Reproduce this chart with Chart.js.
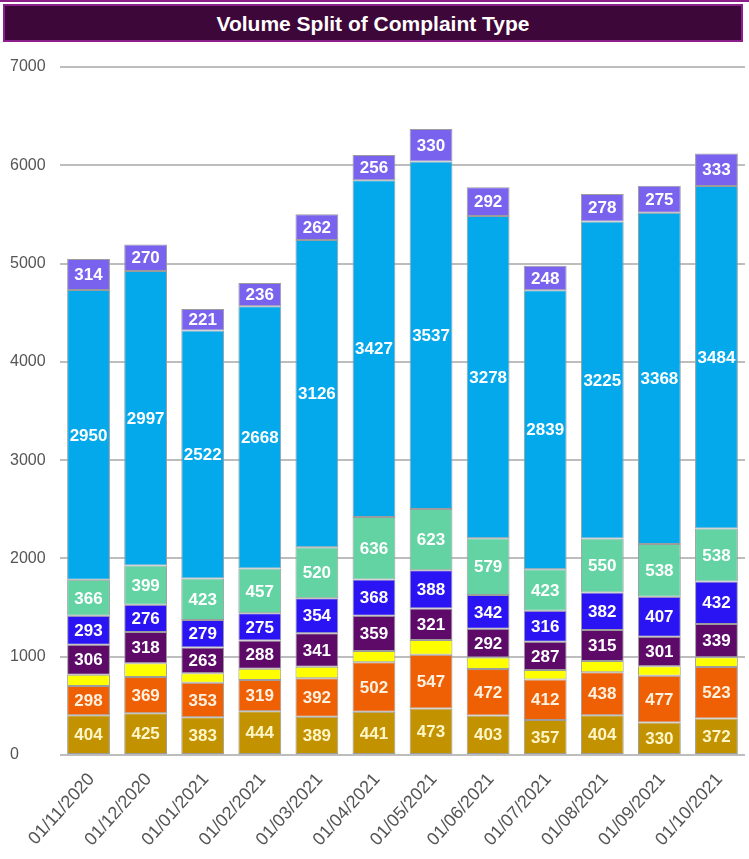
<!DOCTYPE html>
<html>
<head>
<meta charset="utf-8">
<script src="https://cdn.jsdelivr.net/npm/chart.js@4"></script>
<style>
  html, body { margin: 0; padding: 0; background: #ffffff; }
  body { width: 749px; height: 859px; position: relative; overflow: hidden; font-family: "Liberation Sans", Arial, sans-serif; }
  #topline { position: absolute; left: 0; top: 0; width: 749px; height: 2px; background: #8d1f8a; }
  #banner {
    position: absolute; left: 3px; top: 4px; width: 736px; height: 34px;
    background: #3e0739; border: 2px solid #8d1f8a;
    color: #ffffff; font-weight: bold; font-size: 21px; line-height: 35px; text-align: center;
    z-index: 2;
  }
  #chart { position: absolute; left: 0; top: 0; }
</style>
</head>
<body>
<div id="topline"></div>
<div id="banner">Volume Split of Complaint Type</div>
<canvas id="chart" width="749" height="859"></canvas>
<script>
// Months on the category axis
const months = ['01/11/2020', '01/12/2020', '01/01/2021', '01/02/2021', '01/03/2021', '01/04/2021',
                '01/05/2021', '01/06/2021', '01/07/2021', '01/08/2021', '01/09/2021', '01/10/2021'];

// Complaint volumes per type, bottom of the stack first
const typeGold     = [404, 425, 383, 444, 389, 441, 473, 403, 357, 404, 330, 372];
const typeOrange   = [298, 369, 353, 319, 392, 502, 547, 472, 412, 438, 477, 523];
const typeYellow   = [115, 140, 95, 115, 118, 115, 150, 118, 95, 115, 95, 100];
const typePurple   = [306, 318, 263, 288, 341, 359, 321, 292, 287, 315, 301, 339];
const typeBlue     = [293, 276, 279, 275, 354, 368, 388, 342, 316, 382, 407, 432];
const typeGreen    = [366, 399, 423, 457, 520, 636, 623, 579, 423, 550, 538, 538];
const typeSky      = [2950, 2997, 2522, 2668, 3126, 3427, 3537, 3278, 2839, 3225, 3368, 3484];
const typeLavender = [314, 270, 221, 236, 262, 256, 330, 292, 248, 278, 275, 333];

// Y axis ticks
const yTicks = [0, 1000, 2000, 3000, 4000, 5000, 6000, 7000];

const series = [
  { data: typeGold,     color: '#c29200', text: '#fff6c8', label: true },
  { data: typeOrange,   color: '#ef6004', text: '#fff1e0', label: true },
  { data: typeYellow,   color: '#ffff00', text: '#ffffff', label: false },
  { data: typePurple,   color: '#5d0a69', text: '#ffffff', label: true },
  { data: typeBlue,     color: '#2b14f4', text: '#ffffff', label: true },
  { data: typeGreen,    color: '#63d3a3', text: '#ffffff', label: true },
  { data: typeSky,      color: '#04a9ec', text: '#ffffff', label: true },
  { data: typeLavender, color: '#7963ee', text: '#ffffff', label: true }
];

// Writes each segment's value in its centre
const segmentLabels = {
  id: 'segmentLabels',
  afterDatasetsDraw(chart) {
    const ctx = chart.ctx;
    ctx.save();
    ctx.font = 'bold 17px "Liberation Sans", Arial, sans-serif';
    ctx.textAlign = 'center';
    ctx.textBaseline = 'middle';
    chart.data.datasets.forEach((ds, di) => {
      if (!series[di].label) return;
      const meta = chart.getDatasetMeta(di);
      ctx.fillStyle = series[di].text;
      meta.data.forEach((bar, i) => {
        const yMid = (bar.y + bar.base) / 2;
        ctx.fillText(String(ds.data[i]), bar.x, yMid + 1);
      });
    });
    ctx.restore();
  }
};

new Chart(document.getElementById('chart'), {
  type: 'bar',
  data: {
    labels: months,
    datasets: series.map(s => ({
      data: s.data,
      backgroundColor: s.color,
      borderColor: '#9c9c9c',
      borderWidth: 1,
      borderSkipped: false,
      barPercentage: 0.75,
      categoryPercentage: 1.0
    }))
  },
  options: {
    responsive: false,
    animation: false,
    layout: { padding: { top: 67, left: 10, right: 4, bottom: 0 } },
    plugins: { legend: { display: false }, tooltip: { enabled: false } },
    scales: {
      x: {
        stacked: true,
        grid: { display: false },
        border: { display: false },
        afterFit(scale) { scale.height = 104; },
        ticks: {
          autoSkip: false,
          minRotation: 48,
          maxRotation: 48,
          labelOffset: 3,
          padding: 6,
          color: '#555555',
          font: { family: '"Liberation Sans", Arial, sans-serif', size: 18 }
        }
      },
      y: {
        stacked: true,
        min: 0,
        max: 7000,
        afterFit(scale) { scale.width = 50; },
        afterBuildTicks(scale) { scale.ticks = yTicks.map(v => ({ value: v })); },
        border: { display: false },
        grid: { color: '#bdbdbd', lineWidth: 2, drawTicks: false },
        ticks: {
          crossAlign: 'far',
          padding: 8,
          color: '#555555',
          font: { family: '"Liberation Sans", Arial, sans-serif', size: 16 },
          callback: (v) => String(v)
        }
      }
    }
  },
  plugins: [segmentLabels]
});
</script>
</body>
</html>
